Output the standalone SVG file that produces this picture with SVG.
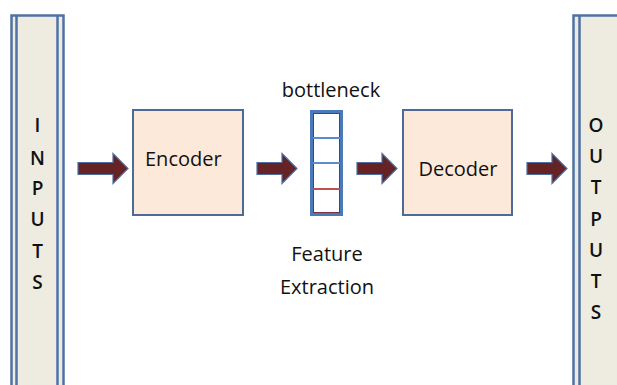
<svg xmlns="http://www.w3.org/2000/svg" width="617" height="385" viewBox="0 0 617 385">
<style>
.col{fill:#EEEBE1;stroke:#4F72A6;stroke-width:2.5}
.cl{stroke:#4F72A6;stroke-width:2.5;fill:none}
.box{fill:#FDE9DA;stroke:#4D6B98;stroke-width:2}
.arr{fill:#652326;stroke:#4F6FA0;stroke-width:1.2;stroke-linejoin:miter}
.t{font-family:"Open Sans","Liberation Sans",sans-serif;font-size:20px;fill:#111}
.lt{font-family:"Open Sans","Liberation Sans",sans-serif;font-size:19px;fill:#111;text-anchor:middle;font-weight:600}
</style>
<rect width="617" height="385" fill="#ffffff"/>
<g id="inputs">
<rect class="col" x="11.5" y="15.5" width="52" height="380"/>
<line class="cl" x1="16.5" y1="15.5" x2="16.5" y2="390"/>
<line class="cl" x1="57.5" y1="15.5" x2="57.5" y2="390"/>
<text class="lt" x="37.5" y="132">I</text>
<text class="lt" x="37.5" y="165">N</text>
<text class="lt" x="37.5" y="195">P</text>
<text class="lt" x="37.5" y="226">U</text>
<text class="lt" x="37.5" y="258">T</text>
<text class="lt" x="37.5" y="289">S</text>
</g>
<g id="encoder">
<rect class="box" x="133" y="110" width="110" height="105"/>
<text class="t" x="145" y="166">Encoder</text>
</g>
<g id="bottleneck">
<text class="t" x="331" y="97" text-anchor="middle">bottleneck</text>
<rect x="311.5" y="111.5" width="30" height="103" fill="#ffffff" stroke="#4A78B8" stroke-width="3"/>
<rect x="313.5" y="113.5" width="26" height="99" fill="none" stroke="#7A3040" stroke-width="1"/>
<line x1="313" y1="138" x2="340" y2="138" stroke="#5B8BD0" stroke-width="2"/>
<line x1="313" y1="163" x2="340" y2="163" stroke="#5B8BD0" stroke-width="2"/>
<line x1="313" y1="189" x2="340" y2="189" stroke="#C0504D" stroke-width="2"/>
<text class="t" x="327" y="261" text-anchor="middle">Feature</text>
<text class="t" x="327" y="294" text-anchor="middle">Extraction</text>
</g>
<g id="decoder">
<rect class="box" x="403" y="110" width="109" height="105"/>
<text class="t" x="458" y="176" text-anchor="middle">Decoder</text>
</g>
<g id="outputs">
<rect class="col" x="573.5" y="15.5" width="60" height="380"/>
<line class="cl" x1="579.5" y1="15.5" x2="579.5" y2="390"/>
<text class="lt" x="596" y="132">O</text>
<text class="lt" x="596" y="163">U</text>
<text class="lt" x="596" y="194">T</text>
<text class="lt" x="596" y="226">P</text>
<text class="lt" x="596" y="257">U</text>
<text class="lt" x="596" y="288">T</text>
<text class="lt" x="596" y="319">S</text>
</g>
<g id="connectors">
<path class="arr" d="M78,162.5 H113 V153.5 L128,168.5 L113,183.5 V174.5 H78 Z"/>
<path class="arr" d="M257,162.5 H282 V153.5 L297,168.5 L282,183.5 V174.5 H257 Z"/>
<path class="arr" d="M357,162.5 H382 V153.5 L397,168.5 L382,183.5 V174.5 H357 Z"/>
<path class="arr" d="M527,162.5 H552 V153.5 L567,168.5 L552,183.5 V174.5 H527 Z"/>
</g>
</svg>
